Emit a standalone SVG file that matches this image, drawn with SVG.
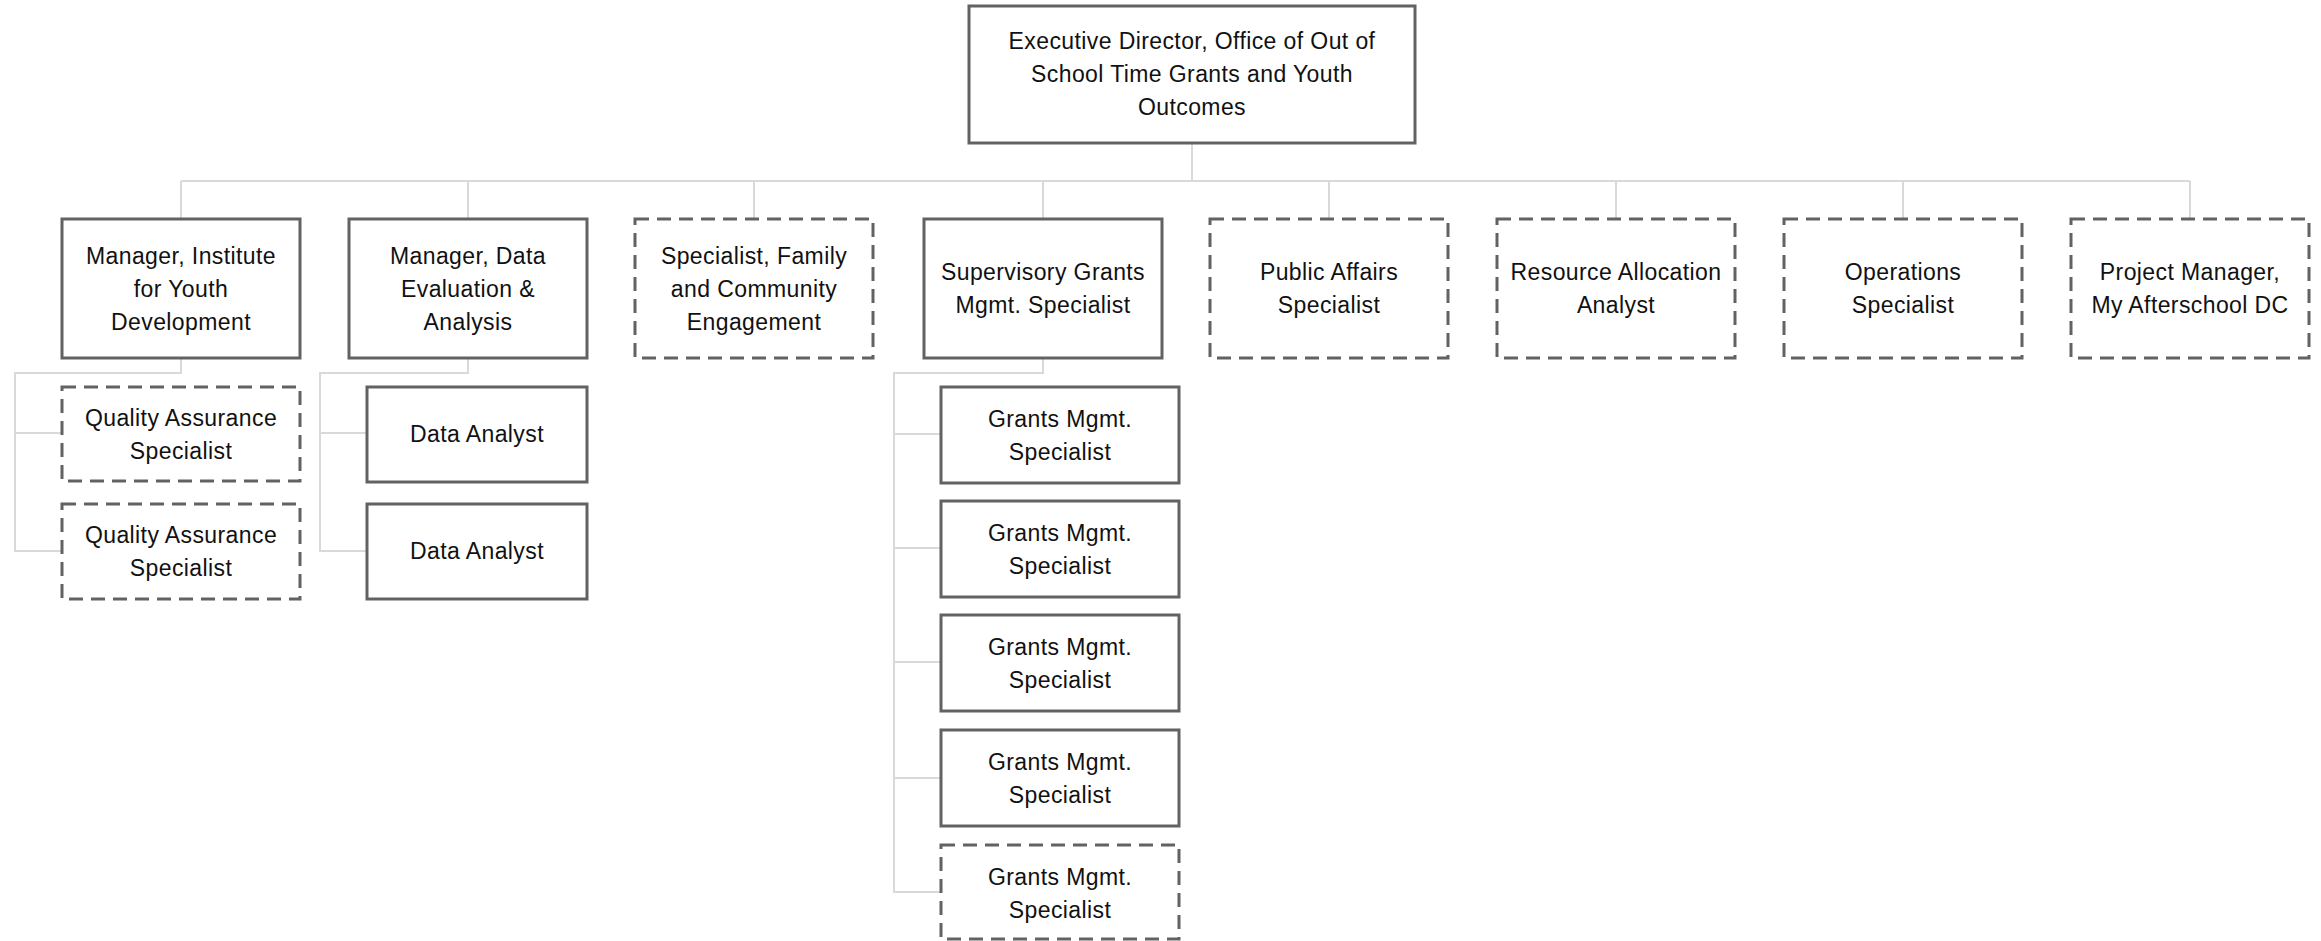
<svg xmlns="http://www.w3.org/2000/svg" width="2321" height="941" viewBox="0 0 2321 941">
<style>
.box{fill:#ffffff;stroke:#626262;stroke-width:3}
.dash{stroke-dasharray:14 8}
.conn{fill:none;stroke:#d9d9d9;stroke-width:2}
text{font-family:"Liberation Sans",Arial,sans-serif;font-size:23px;letter-spacing:0.4px;fill:#111111;text-anchor:middle}
</style>
<rect width="2321" height="941" fill="#ffffff"/>
<g id="connectors">
<path class="conn" d="M1192 143V181M181 181H2190M181 181V219M468 181V219M754 181V219M1043 181V219M1329 181V219M1616 181V219M1903 181V219M2190 181V219"/>
<path class="conn" d="M181 358V373H15V551H62M15 433H62"/>
<path class="conn" d="M468 358V373H320V551H367M320 433H367"/>
<path class="conn" d="M1043 358V373H894V892H941M894 434H941M894 548H941M894 662H941M894 778H941"/>
</g>
<g id="exec">
<rect class="box" x="969" y="6" width="446" height="137"/>
<text x="1192" y="49">Executive Director, Office of Out of</text>
<text x="1192" y="82">School Time Grants and Youth</text>
<text x="1192" y="115">Outcomes</text>
</g>
<g id="mgr-iyd">
<rect class="box" x="62" y="219" width="238" height="139"/>
<text x="181" y="264">Manager, Institute</text>
<text x="181" y="297">for Youth</text>
<text x="181" y="330">Development</text>
</g>
<g id="mgr-data">
<rect class="box" x="349" y="219" width="238" height="139"/>
<text x="468" y="264">Manager, Data</text>
<text x="468" y="297">Evaluation  &amp;</text>
<text x="468" y="330">Analysis</text>
</g>
<g id="spec-family">
<rect class="box dash" x="635" y="219" width="238" height="139"/>
<text x="754" y="264">Specialist, Family</text>
<text x="754" y="297">and Community</text>
<text x="754" y="330">Engagement</text>
</g>
<g id="sup-grants">
<rect class="box" x="924" y="219" width="238" height="139"/>
<text x="1043" y="280">Supervisory Grants</text>
<text x="1043" y="313">Mgmt.  Specialist</text>
</g>
<g id="public-affairs">
<rect class="box dash" x="1210" y="219" width="238" height="139"/>
<text x="1329" y="280">Public Affairs</text>
<text x="1329" y="313">Specialist</text>
</g>
<g id="resource-allocation">
<rect class="box dash" x="1497" y="219" width="238" height="139"/>
<text x="1616" y="280">Resource Allocation</text>
<text x="1616" y="313">Analyst</text>
</g>
<g id="operations">
<rect class="box dash" x="1784" y="219" width="238" height="139"/>
<text x="1903" y="280">Operations</text>
<text x="1903" y="313">Specialist</text>
</g>
<g id="project-manager">
<rect class="box dash" x="2071" y="219" width="238" height="139"/>
<text x="2190" y="280">Project Manager,</text>
<text x="2190" y="313">My Afterschool DC</text>
</g>
<g id="qa1">
<rect class="box dash" x="62" y="387" width="238" height="94"/>
<text x="181" y="426">Quality Assurance</text>
<text x="181" y="459">Specialist</text>
</g>
<g id="qa2">
<rect class="box dash" x="62" y="504" width="238" height="95"/>
<text x="181" y="543">Quality Assurance</text>
<text x="181" y="576">Specialist</text>
</g>
<g id="da1">
<rect class="box" x="367" y="387" width="220" height="95"/>
<text x="477" y="442">Data Analyst</text>
</g>
<g id="da2">
<rect class="box" x="367" y="504" width="220" height="95"/>
<text x="477" y="559">Data Analyst</text>
</g>
<g id="gms1">
<rect class="box" x="941" y="387" width="238" height="96"/>
<text x="1060" y="427">Grants Mgmt.</text>
<text x="1060" y="460">Specialist</text>
</g>
<g id="gms2">
<rect class="box" x="941" y="501" width="238" height="96"/>
<text x="1060" y="541">Grants Mgmt.</text>
<text x="1060" y="574">Specialist</text>
</g>
<g id="gms3">
<rect class="box" x="941" y="615" width="238" height="96"/>
<text x="1060" y="655">Grants Mgmt.</text>
<text x="1060" y="688">Specialist</text>
</g>
<g id="gms4">
<rect class="box" x="941" y="730" width="238" height="96"/>
<text x="1060" y="770">Grants Mgmt.</text>
<text x="1060" y="803">Specialist</text>
</g>
<g id="gms5">
<rect class="box dash" x="941" y="845" width="238" height="94"/>
<text x="1060" y="885">Grants Mgmt.</text>
<text x="1060" y="918">Specialist</text>
</g>
</svg>
